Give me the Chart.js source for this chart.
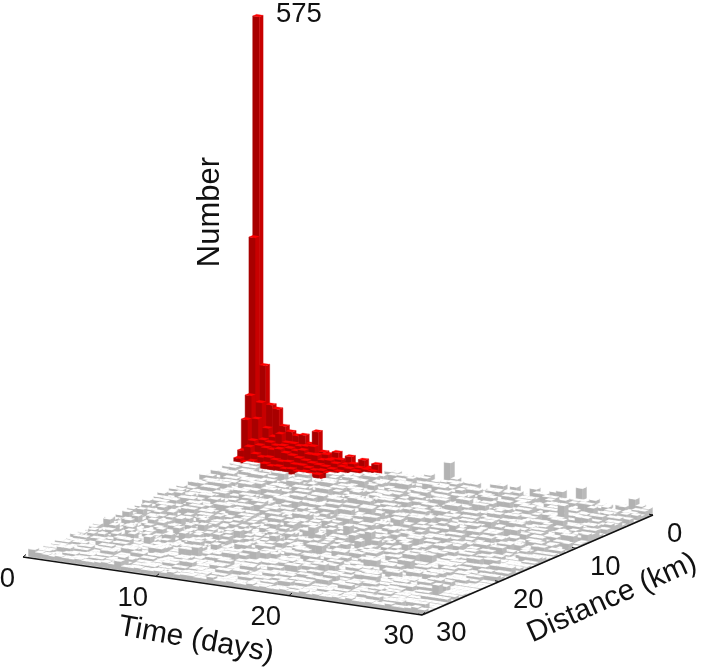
<!DOCTYPE html>
<html>
<head>
<meta charset="utf-8">
<title>Number by time and distance</title>
<script src="https://cdn.jsdelivr.net/npm/chart.js@4"></script>
<style>
html,body{margin:0;padding:0;background:#fff;}
canvas{display:block;filter:blur(0.5px);}
</style>
</head>
<body>
<canvas id="chart" width="706" height="667"></canvas>
<script>
// counts per 0.5 day (columns) and 0.5 km (rows)
const d00=[575,123,73,69,48,42,38,40,30,47,22,20,24,12,21,11,19,10,16,2,9,9,1,1,7,7,12,5,5,32,12,1,9,9,3,3,12,12,6,13,4,4,14,7,5,14,16,6,8,24,9,11,6,6,2,9,9,20,12,10];
const d01=[290,77,45,35,40,30,30,28,29,30,20,22,17,18,13,15,11,10,9,2,2,8,8,4,4,10,10,3,3,9,10,10,6,6,2,2,8,8,4,9,9,1,1,12,12,3,8,8,2,10,10,5,5,1,3,3,11,6,9,9];
const d02=[87,58,32,30,27,28,26,24,26,22,22,17,18,15,12,11,9,4,4,8,8,0,0,12,12,6,6,3,3,7,7,11,4,4,8,0,0,6,6,10,3,3,7,7,1,12,12,4,4,9,2,2,8,8,10,1,1,7,7,5];
const d03=[58,32,27,25,24,26,22,20,18,16,14,13,12,10,8,0,7,7,10,10,4,4,0,9,9,13,5,5,1,1,8,8,3,3,10,10,1,12,12,2,2,7,9,9,3,3,11,5,5,0,6,13,13,4,4,9,9,0,5,8];
const d04=[20,26,18,15,16,14,13,14,12,12,10,8,9,7,1,8,8,2,2,11,11,4,4,7,9,9,3,3,12,12,2,2,7,10,4,4,0,9,6,6,11,11,8,8,2,5,5,10,1,1,7,3,3,12,1,8,8,4,10,2];
const d05=[12,8,11,8,10,8,9,7,8,6,7,5,6,0,9,9,5,5,12,3,3,8,8,2,2,10,10,4,4,7,13,13,5,0,0,8,3,11,11,6,6,2,2,9,4,4,7,12,12,3,8,8,5,5,1,1,10,2,7,7];
const d06=[7,1,10,10,3,3,2,2,1,2,1,2,1,1,2,8,3,11,11,6,6,0,9,4,4,13,13,7,3,3,5,10,10,2,2,8,4,4,12,12,5,5,1,9,9,3,7,7,11,11,4,1,1,8,2,2,5,9,9,0];
const d07=[2,9,9,5,5,1,2,2,0,0,1,1,2,1,1,4,4,7,3,12,12,1,5,5,8,2,2,6,10,10,3,7,7,4,11,11,0,6,3,3,9,12,12,4,7,7,1,5,10,10,3,8,8,0,6,11,11,2,4,4];
const d08=[8,8,4,11,11,2,2,7,5,5,3,12,12,0,6,9,9,1,1,7,3,3,11,4,4,8,8,2,6,12,12,3,9,9,1,5,5,7,2,10,10,4,4,1,6,13,13,0,5,8,8,2,10,10,3,7,7,4,9,9];
const d09=[5,3,3,9,9,6,6,0,12,12,2,7,7,4,1,1,10,3,8,8,0,5,5,2,6,6,12,12,4,9,1,1,7,3,5,5,13,13,2,6,6,0,8,8,3,11,11,4,2,9,9,1,7,7,12,12,4,1,1,8];
const d10=[1,7,7,2,10,10,4,8,8,0,5,3,11,11,7,1,12,12,2,6,9,9,0,3,5,5,10,10,6,2,8,8,1,11,11,4,7,7,3,12,12,5,5,0,2,8,6,6,10,1,3,3,27,4,4,4,7,7,3,11];
const d11=[9,9,3,6,6,1,12,12,5,5,2,0,8,8,1,6,3,3,10,10,4,9,9,2,7,7,11,1,3,5,13,13,0,4,2,7,7,9,9,1,5,5,3,11,6,6,0,8,8,2,4,12,12,6,6,1,9,9,2,7];
const d12=[0,4,11,11,1,7,7,2,9,9,5,1,13,13,3,6,6,4,1,8,2,2,11,3,3,6,9,9,5,1,2,10,10,7,3,3,12,12,0,6,2,8,8,4,1,10,10,3,7,7,2,5,13,13,1,8,8,4,6,1];
const d13=[6,2,2,8,8,1,4,10,10,3,7,7,5,0,9,9,2,12,12,3,1,5,7,7,2,1,8,8,4,10,10,1,6,11,11,3,5,5,2,9,9,1,6,12,12,3,5,5,8,1,10,10,2,6,3,11,11,0,4,4];
const d14=[10,10,1,5,5,2,11,11,3,6,6,0,9,2,12,12,4,6,6,1,7,3,10,10,5,5,2,12,12,6,3,1,8,8,4,10,2,2,5,1,12,12,3,7,7,4,1,9,9,2,6,6,11,1,5,5,8,3,12,12];
const d15=[3,7,7,1,9,9,5,2,12,12,1,4,7,7,2,10,10,5,3,8,8,1,6,11,11,3,1,7,9,9,4,1,5,7,7,2,11,11,3,1,8,5,5,2,6,1,11,11,4,7,7,0,10,2,5,5,3,7,9,9];
const d16=[0,5,8,8,2,4,4,12,12,3,6,6,10,1,5,7,7,2,11,11,4,9,9,1,3,13,13,2,5,7,7,1,10,3,3,6,1,4,9,9,2,11,11,7,3,3,5,1,12,12,3,7,7,1,4,9,9,2,6,11];
const d17=[7,7,1,3,11,11,2,5,8,8,1,12,12,3,6,1,4,9,9,2,5,12,12,1,6,2,8,8,3,1,10,10,5,2,13,13,7,1,3,6,6,9,9,4,12,12,1,6,2,8,8,3,11,11,5,5,4,9,1,3];
const d18=[2,10,10,6,1,3,7,7,4,11,11,2,8,8,1,5,12,12,3,1,6,6,2,7,10,10,4,1,5,5,12,12,7,3,9,9,5,1,11,11,2,6,6,1,8,3,3,10,1,6,6,4,9,9,2,1,7,12,12,3];
const d19=[5,5,2,9,9,7,7,1,11,11,3,6,1,4,9,9,2,6,8,8,1,3,11,11,1,5,7,12,12,2,6,1,9,9,3,4,11,11,1,7,3,3,5,10,10,7,1,2,5,12,12,1,3,7,7,10,10,2,4,1];
const d20=[8,2,4,4,12,12,1,3,6,6,1,9,5,5,2,11,11,7,3,3,10,10,1,5,2,8,8,6,4,4,11,2,2,7,1,12,12,3,6,2,2,10,4,4,1,7,3,9,9,1,5,5,11,2,1,6,3,8,8,1];
const d21=[1,6,3,3,7,7,10,10,2,1,12,12,4,1,7,3,5,13,13,2,6,1,9,9,3,12,12,1,4,7,3,3,1,10,5,5,2,8,1,6,6,3,11,11,2,1,5,9,9,3,1,7,4,4,12,12,1,6,2,10];
const d22=[9,9,3,1,5,5,8,4,4,6,2,11,11,1,7,3,3,10,1,4,4,6,2,12,12,1,5,3,9,9,2,6,4,4,12,1,3,3,7,2,9,9,5,1,3,11,11,6,1,8,8,2,4,1,10,10,3,7,1,1];
const d23=[6,1,7,7,2,10,10,1,5,3,3,8,2,12,12,5,1,7,7,2,11,4,4,1,6,2,9,9,1,5,13,13,7,1,3,3,10,1,4,6,6,1,12,18,13,2,7,1,5,5,9,2,2,6,1,11,11,3,5,5];
const d24=[3,3,11,2,6,6,1,9,9,4,1,6,6,3,10,1,7,2,5,5,1,8,3,3,11,1,6,2,8,8,1,4,9,9,2,6,6,1,12,12,3,1,7,9,9,3,5,1,11,11,4,1,8,8,2,6,9,9,1,1];
const d25=[10,1,4,8,8,2,5,5,12,1,6,2,9,9,1,3,11,11,1,6,3,9,9,2,7,1,4,12,12,1,5,8,8,2,7,7,3,5,1,9,2,6,6,1,12,12,3,1,7,5,5,1,3,10,10,6,1,4,4,4];
const d26=[7,7,1,3,11,11,2,1,4,9,9,1,7,4,4,2,10,3,3,1,6,12,12,1,5,3,8,8,1,6,2,11,11,4,1,3,10,7,7,2,6,6,1,3,9,9,1,5,2,8,8,1,12,12,3,1,7,2,2,2];
const d27=[5,2,9,9,1,6,3,8,8,1,12,12,3,1,7,7,2,5,9,9,1,2,7,3,3,1,11,5,5,2,9,9,1,3,6,6,12,1,2,8,8,1,4,11,11,2,6,1,3,10,10,4,1,6,6,2,9,3,3,3];
const d28=[1,8,8,2,5,1,12,12,3,6,1,4,10,10,2,4,1,7,13,13,4,1,9,9,2,5,1,7,3,6,6,1,11,2,4,4,1,9,5,5,1,3,7,7,4,1,10,10,2,6,1,3,12,12,4,1,6,6,6,6];
const d29=[9,3,7,7,2,4,1,11,11,2,7,1,5,12,12,3,2,6,3,10,10,1,6,2,8,8,1,4,12,3,1,9,5,5,1,3,8,2,1,5,11,11,3,1,6,2,9,9,1,5,2,8,8,1,2,2,2,8,8,8];
const d30=[2,5,1,10,10,3,7,1,4,9,9,2,1,6,3,11,11,7,1,4,2,6,12,12,3,5,1,3,4,1,7,17,2,10,10,2,1,6,3,9,9,1,4,7,2,1,12,3,5,1,8,3,3,6,6,1,1,1,4,4];
const d31=[6,9,1,3,3,6,2,12,12,3,5,1,8,2,4,1,10,6,2,1,8,3,1,11,2,7,1,5,2,12,3,1,7,4,1,11,11,2,6,1,9,3,1,7,2,2,12,1,4,6,6,1,7,7,3,3,2,2,2,2];
const d32=[3,1,6,6,12,1,4,2,7,1,10,10,3,1,6,2,9,1,5,3,1,11,2,6,1,3,9,1,4,2,7,7,1,12,5,2,1,8,3,1,5,10,2,4,1,6,6,9,9,3,3,1,1,5,5,2,2,4,4,4];
const d33=[7,1,4,2,8,1,10,2,5,1,3,9,1,7,3,1,12,4,1,2,7,5,1,10,2,4,1,3,3,1,6,2,9,1,3,7,22,12,2,4,6,1,3,10,2,1,8,8,4,4,1,1,2,2,9,9,3,3,3,3];
const d34=[3,2,11,1,5,6,1,3,2,8,1,11,4,6,1,3,9,1,5,2,1,3,3,6,1,8,3,1,20,12,2,1,6,4,1,11,2,6,1,8,3,5,1,2,7,7,1,1,5,5,3,3,10,10,2,2,2,6,6,6];
const d35=[1,6,3,1,7,2,4,9,1,3,1,5,12,2,1,7,2,6,11,1,3,1,7,4,1,10,2,5,1,7,3,9,1,6,2,1,4,7,1,3,6,6,2,2,11,11,1,1,3,3,6,6,4,4,1,1,8,8,3,3];
const d36=[5,11,1,3,1,9,2,6,1,12,2,1,4,8,1,3,2,6,1,9,2,5,1,12,3,1,7,2,1,4,1,8,3,1,10,3,1,5,7,7,2,2,4,4,1,1,12,12,3,3,5,5,1,1,7,7,2,2,11,11];
const d37=[2,1,4,10,1,2,7,1,3,5,1,8,2,11,1,4,1,9,2,1,6,3,1,8,2,1,5,3,1,11,2,6,1,9,3,3,1,1,7,7,2,2,5,5,12,12,1,1,3,3,6,6,4,4,1,1,2,2,6,6];
const d38=[4,1,7,2,1,5,11,1,3,7,2,1,5,3,1,9,2,1,6,13,1,3,2,6,1,11,1,3,5,1,9,2,4,4,7,7,1,1,3,3,2,2,9,9,1,1,5,5,3,3,8,8,1,1,3,3,8,8,2,2];
const d39=[8,2,1,9,3,1,6,1,12,2,1,4,6,1,2,7,1,3,11,1,2,7,1,4,1,16,8,1,2,6,1,12,12,2,2,5,5,9,9,1,1,3,3,6,6,2,2,4,4,1,1,7,7,3,3,1,1,5,5,5];
const d40=[1,5,3,1,6,2,1,4,8,1,3,11,1,2,6,1,3,10,1,2,7,1,5,1,3,9,2,1,4,7,7,1,1,2,2,11,11,3,3,6,6,2,2,4,4,12,12,1,1,2,2,5,5,1,1,3,3,8,8,8];
const d41=[3,12,1,2,7,1,3,5,1,9,2,1,4,8,2,1,5,3,1,12,2,1,6,3,7,7,2,2,4,4,9,9,1,1,3,3,7,7,2,2,8,8,3,3,6,6,1,1,3,3,6,6,1,1,3,3,7,7,2,2];
const d42=[6,1,2,4,1,9,2,1,7,3,1,5,1,11,2,1,3,6,1,8,2,1,5,1,2,10,10,3,3,6,6,1,1,4,4,7,7,2,2,4,4,12,12,1,1,2,2,5,5,3,3,8,8,2,2,4,4,4,1,1];
const d43=[5,1,3,11,1,2,4,1,6,2,1,8,3,1,5,1,9,2,1,4,3,1,10,10,2,2,7,7,1,1,3,3,9,9,2,2,6,6,1,1,3,3,4,4,11,11,2,2,7,7,1,1,3,3,6,6,6,1,1,1];
const d44=[2,4,1,7,1,3,10,1,2,5,1,3,12,1,2,6,1,4,1,8,2,3,3,5,5,1,1,7,7,2,2,3,3,11,11,4,4,1,1,2,2,6,6,3,3,8,8,1,1,2,2,10,10,4,4,2,2,2,2,2];
const d45=[1,7,2,1,3,6,1,9,1,2,4,1,7,2,1,3,11,11,1,1,2,2,6,6,3,3,9,9,1,1,4,4,2,2,8,8,1,1,3,3,7,7,5,5,2,2,9,9,1,1,3,3,5,5,7,7,1,1,1,1];
const d46=[4,2,1,6,1,9,2,1,4,1,11,3,1,5,5,2,2,7,7,3,3,2,2,5,5,12,12,2,2,3,3,1,1,6,6,2,2,9,9,1,1,3,3,7,7,2,2,4,4,5,5,3,3,10,10,2,2,2,2,2];
const d47=[3,1,8,2,1,4,7,7,3,3,2,2,6,6,3,3,9,9,2,2,5,5,1,1,8,8,2,2,3,3,6,6,2,2,4,4,11,11,2,2,6,6,3,3,9,9,2,2,5,5,3,3,8,8,2,2,2,2,2,2];
const d48=[6,1,3,5,5,2,2,9,9,2,2,4,4,7,7,3,3,1,1,6,6,2,2,11,11,3,3,2,2,6,6,1,1,3,3,9,9,2,2,5,5,3,3,8,8,2,2,4,4,7,7,3,3,2,2,9,9,3,3,3];
const d49=[2,7,7,1,1,2,2,6,6,1,1,3,3,8,8,2,2,11,11,15,3,5,5,1,1,2,2,7,7,3,3,2,2,10,10,4,4,3,3,1,1,6,6,2,2,11,11,3,3,5,5,2,2,7,7,1,1,4,4,4];
const d50=[1,4,4,2,2,8,8,3,3,5,5,2,2,9,9,3,3,2,2,4,4,1,1,8,8,2,2,5,5,3,3,7,7,2,2,1,1,9,9,3,3,4,4,2,2,6,6,1,1,3,3,8,8,2,2,10,15,3,3,3];
const d51=[3,3,5,5,2,2,6,6,3,3,7,7,2,2,4,4,1,1,6,6,3,3,2,2,9,9,3,3,5,5,2,2,4,4,1,1,6,6,2,2,10,10,3,3,2,2,7,7,3,3,5,5,2,2,6,6,1,1,6,6];
const d52=[6,6,2,2,3,3,4,4,2,2,9,9,3,3,5,5,2,2,7,7,3,3,2,2,6,6,3,3,9,9,2,2,3,3,5,5,2,2,7,7,3,3,4,4,8,8,3,3,1,1,4,4,2,2,4,4,4,2,2,2];
const d53=[4,4,3,3,7,7,2,2,6,6,3,3,8,8,2,2,3,3,5,5,2,2,4,4,7,7,2,2,4,4,3,3,7,7,2,2,4,4,3,3,9,9,2,2,5,5,3,3,7,7,2,2,4,4,3,3,7,7,7,7];
const d54=[3,3,2,2,5,5,2,2,8,8,3,3,2,2,6,6,3,3,2,2,9,9,3,3,2,2,5,5,7,7,2,2,3,3,5,5,2,2,7,7,3,3,2,2,9,9,3,3,2,2,6,6,3,3,2,2,3,3,3,3];
const d55=[5,5,7,7,2,2,3,3,4,4,2,2,6,6,3,3,2,2,7,7,2,2,4,4,3,3,8,8,2,2,3,3,5,5,2,2,3,3,6,6,2,2,3,3,4,4,2,2,8,8,3,3,2,2,2,2,2,2,2,2];
const d56=[4,4,1,1,3,3,5,5,2,2,3,3,7,7,2,2,4,4,3,3,6,6,2,2,3,3,4,4,2,2,6,6,3,3,2,2,8,8,2,2,3,3,5,5,2,2,3,3,6,6,2,2,3,3,6,6,6,2,2,2];
const d57=[5,5,2,2,6,6,3,3,5,5,2,2,4,4,1,1,5,5,2,2,3,3,4,4,6,6,2,2,3,3,2,2,3,3,7,7,2,2,4,4,3,3,2,2,5,5,3,3,2,2,8,8,1,1,3,3,8,8,8,1];
const d58=[3,4,4,2,3,3,5,5,2,2,3,3,7,14,2,2,3,3,4,4,1,1,3,3,5,5,2,2,3,3,4,4,2,2,5,5,3,3,2,2,4,4,3,3,5,5,2,2,3,3,4,4,1,1,9,9,2,3,3,3];
const d59=[10,7,6,5,6,5,5,6,5,5,6,7,6,11,5,5,6,5,5,6,5,7,5,6,6,5,5,8,5,5,6,5,5,7,5,6,5,5,6,5,5,7,5,6,5,5,6,5,7,5,5,6,5,5,7,5,5,6,8,6];
const countRows=[d00,d01,d02,d03,d04,d05,d06,d07,d08,d09,d10,d11,d12,d13,d14,d15,d16,d17,d18,d19,d20,d21,d22,d23,d24,d25,d26,d27,d28,d29,d30,d31,d32,d33,d34,d35,d36,d37,d38,d39,d40,d41,d42,d43,d44,d45,d46,d47,d48,d49,d50,d51,d52,d53,d54,d55,d56,d57,d58,d59];
// how many distance bins are red, per time bin
const redDepth=[6,6,6,6,6,6,6,6,6,6,6,6,6,5,5,4,3,3,2];
const timeTicks=[0,10,20,30];
const distanceTicks=[0,10,20,30];
const peakLabel='575';

const binDays=0.5, binKm=0.5;

// oblique view: days and km on the floor, count going up
function project(days,km,n){
    return {x:256.5+13.2*days-7.6*km, y:457+1.94*days+3.32*km-0.77*n};
}
function timeAxisAt(days){ return {x:23+13.3*days, y:557+1.93*days}; }
function distanceAxisAt(km){ return {x:653-7.7*km, y:515+3.33*km}; }

const bars=[];
countRows.forEach(function(row,di){
    row.forEach(function(n,ti){
        const base=project(ti*binDays,di*binKm,0);
        bars.push({x:base.x,y:base.y,t:ti*binDays,d:di*binKm,n:n,red:di<(redDepth[ti]||0)});
    });
});

const colors={
    red:{top:'#ff0000',front:'#a80000',side:'#c80000'},
    gray:{top:'#ffffff',front:'#b2b2b2',side:'#bababa'}
};

function poly(ctx,sx,sy,pts,color,edge){
    ctx.beginPath();
    pts.forEach(function(p,i){
        if(i===0) ctx.moveTo(sx.getPixelForValue(p.x),sy.getPixelForValue(p.y));
        else ctx.lineTo(sx.getPixelForValue(p.x),sy.getPixelForValue(p.y));
    });
    ctx.closePath();
    ctx.fillStyle=color;
    ctx.fill();
    if(edge){
        ctx.strokeStyle=color;
        ctx.lineWidth=edge;
        ctx.stroke();
    }
}

const bars3d={
    id:'bars3d',
    afterDatasetsDraw(chart){
        const ctx=chart.ctx, sx=chart.scales.x, sy=chart.scales.y;
        ctx.save();
        chart.data.datasets[0].data.forEach(function(b){
            if(b.n<=0) return;
            const c=b.red?colors.red:colors.gray;
            const t2=b.t+binDays, d2=b.d+binKm;
            const B0=project(t2,b.d,0), C0=project(t2,d2,0), D0=project(b.t,d2,0);
            const A1=project(b.t,b.d,b.n), B1=project(t2,b.d,b.n), C1=project(t2,d2,b.n), D1=project(b.t,d2,b.n);
            poly(ctx,sx,sy,[D0,C0,C1,D1],c.front,0.4);
            poly(ctx,sx,sy,[C0,B0,B1,C1],c.side,0.4);
            poly(ctx,sx,sy,[A1,B1,C1,D1],c.top,0.2);
        });
        ctx.restore();
    }
};

const axes3d={
    id:'axes3d',
    afterDraw(chart){
        const ctx=chart.ctx, sx=chart.scales.x, sy=chart.scales.y;
        const px=function(p){ return {x:sx.getPixelForValue(p.x),y:sy.getPixelForValue(p.y)}; };
        ctx.save();
        ctx.strokeStyle='#111';
        ctx.lineWidth=1.5;
        let a=px(timeAxisAt(0)), b=px(timeAxisAt(30)), c=px(distanceAxisAt(0));
        ctx.beginPath(); ctx.moveTo(a.x,a.y); ctx.lineTo(b.x,b.y); ctx.lineTo(c.x,c.y); ctx.stroke();
        ctx.fillStyle='#111';
        ctx.font='27.5px "Liberation Sans", Arial, sans-serif';
        ctx.textBaseline='middle';
        ctx.lineWidth=1;
        timeTicks.forEach(function(t){
            const p=px(timeAxisAt(t));
            ctx.beginPath(); ctx.moveTo(p.x,p.y); ctx.lineTo(p.x+3,p.y-2.5); ctx.stroke();
            ctx.textAlign='right';
            ctx.fillText(String(t),p.x-8,p.y+22);
        });
        distanceTicks.forEach(function(d){
            const p=px(distanceAxisAt(d));
            ctx.beginPath(); ctx.moveTo(p.x,p.y); ctx.lineTo(p.x-4,p.y-0.8); ctx.stroke();
            ctx.textAlign='left';
            ctx.fillText(String(d),p.x+14,p.y+19);
        });
        ctx.textAlign='left';
        ctx.fillText(peakLabel,276,14);
        ctx.textAlign='center';
        const label=function(text,x,y,deg,size){
            ctx.save();
            ctx.translate(x,y);
            ctx.rotate(deg*Math.PI/180);
            ctx.font=size+'px "Liberation Sans", Arial, sans-serif';
            ctx.fillText(text,0,0);
            ctx.restore();
        };
        label('Time (days)',196,640,10,30);
        label('Distance (km)',612,598,-24,29.5);
        label('Number',210,212,-90,31);
        ctx.restore();
    }
};

new Chart(document.getElementById('chart'),{
    type:'scatter',
    data:{datasets:[{data:bars,pointRadius:0,showLine:false}]},
    options:{
        responsive:false,
        animation:false,
        layout:{padding:0},
        plugins:{legend:{display:false},tooltip:{enabled:false}},
        scales:{
            x:{type:'linear',min:0,max:706,display:false},
            y:{type:'linear',min:0,max:667,reverse:true,display:false}
        }
    },
    plugins:[bars3d,axes3d]
});
</script>
</body>
</html>
